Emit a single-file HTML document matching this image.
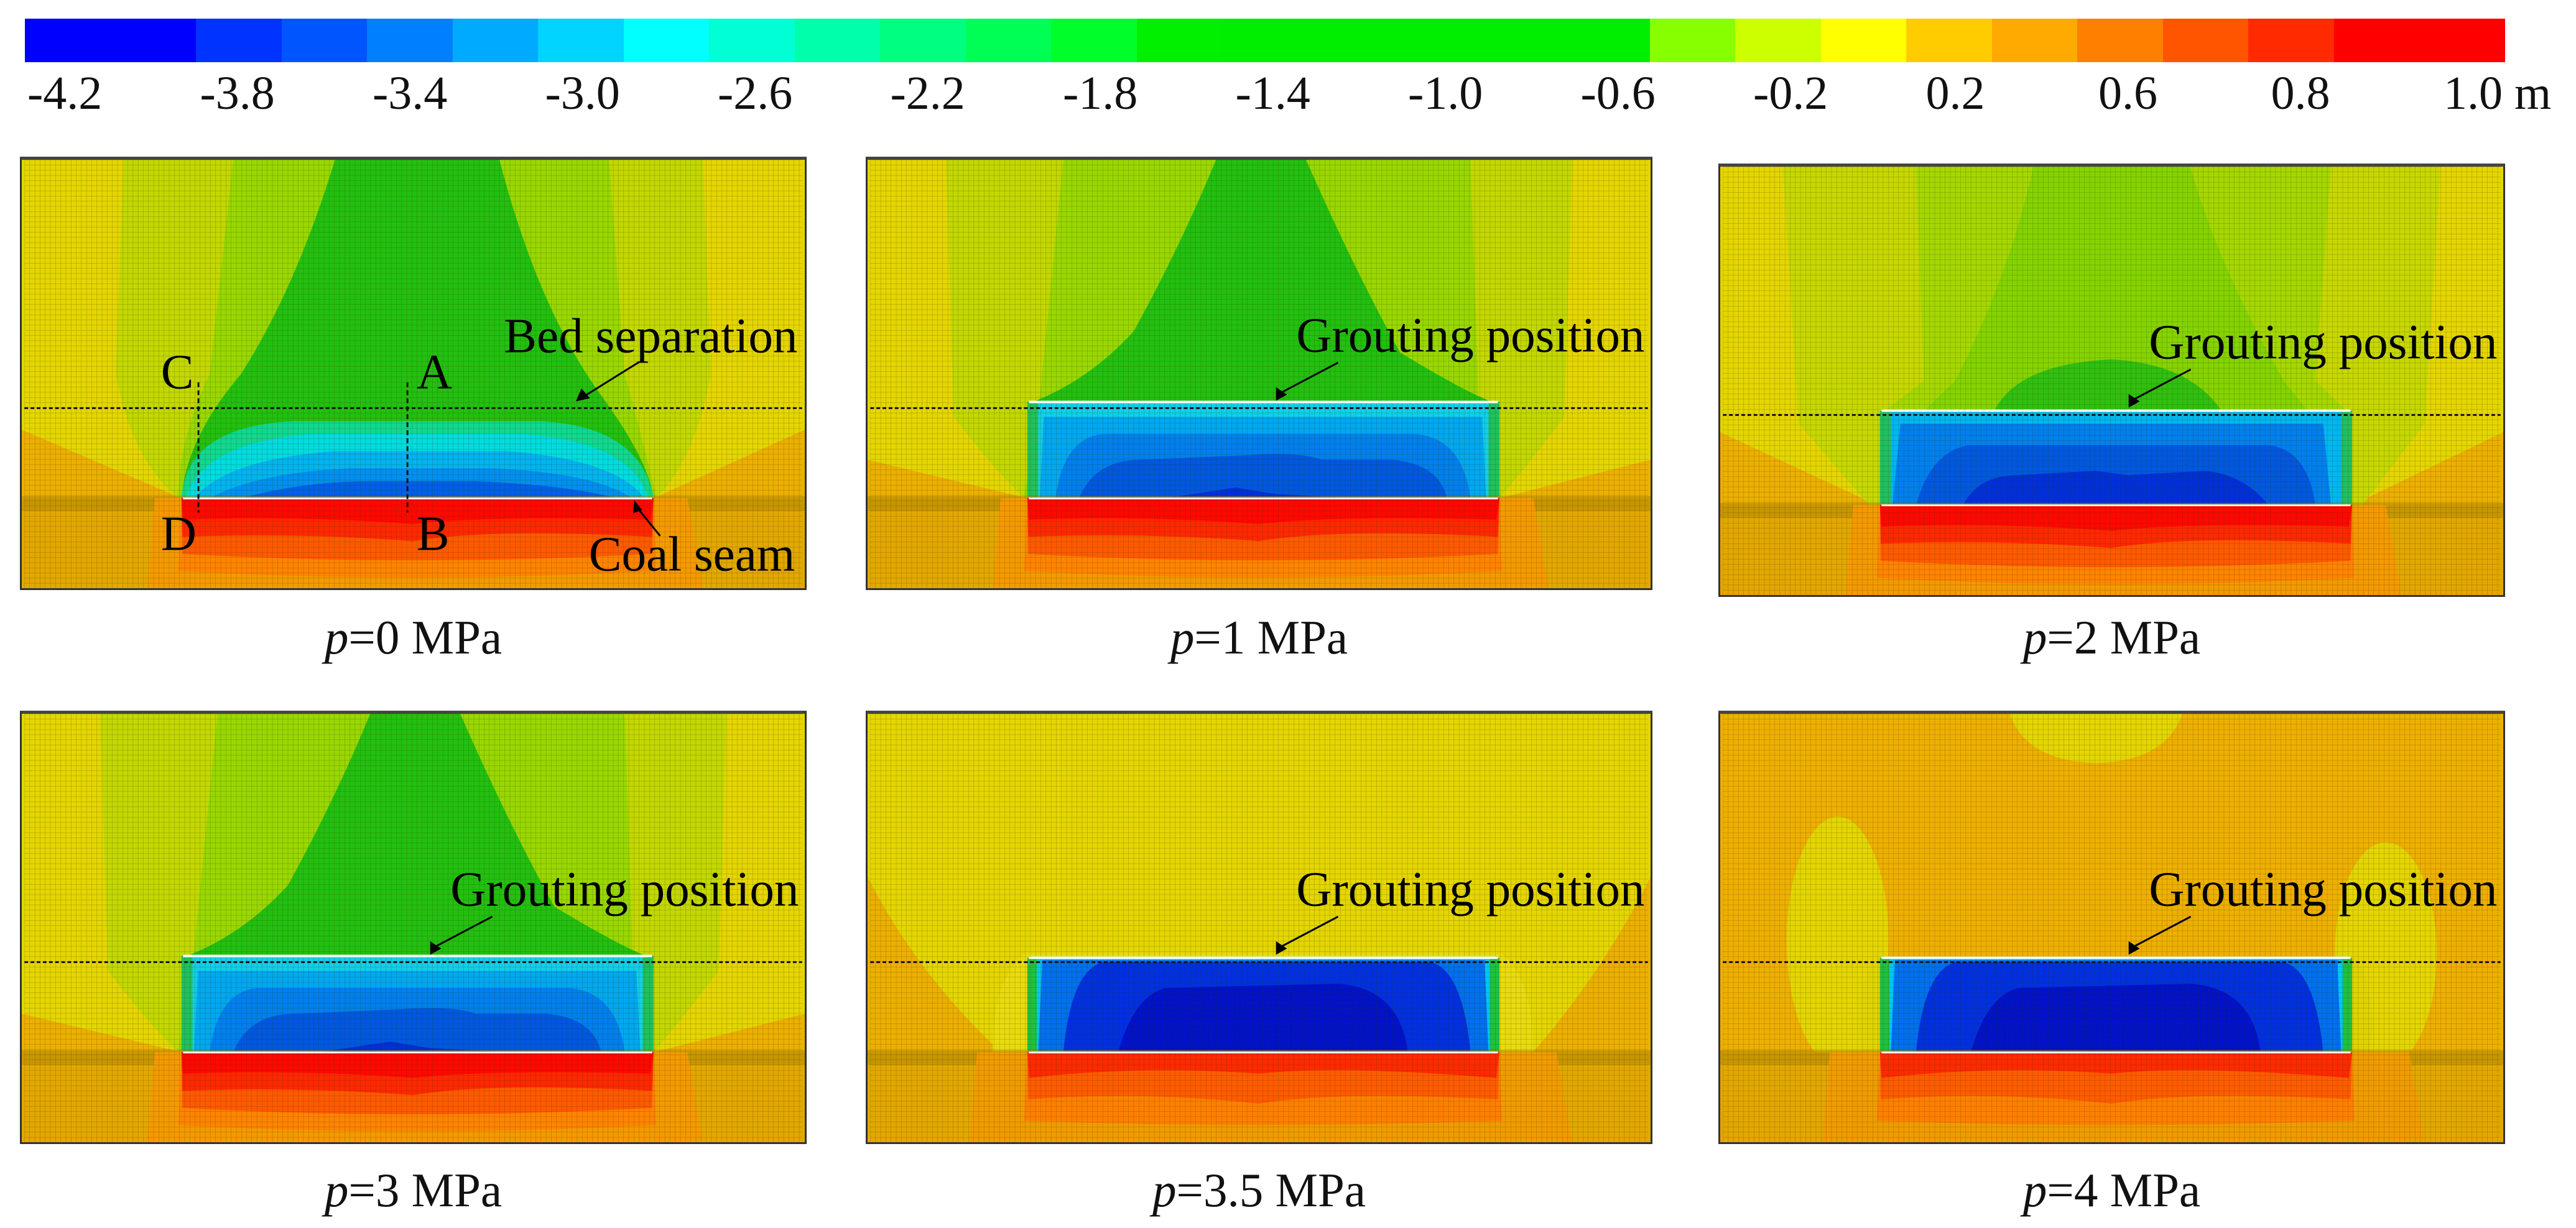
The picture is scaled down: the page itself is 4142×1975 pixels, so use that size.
<!DOCTYPE html>
<html><head><meta charset="utf-8">
<style>
html,body{margin:0;padding:0;background:#fff;}
#root{position:relative;width:4142px;height:1975px;overflow:hidden;background:#fff;font-family:"Liberation Serif",serif;}
.panel{position:absolute;width:1265px;height:697px;box-sizing:border-box;border:3px solid #333;border-top:5px solid #444;overflow:hidden;}
.panel svg{position:absolute;left:0;top:0;width:100%;height:100%;}
.cap{position:absolute;width:1265px;text-align:center;font-size:77px;color:#111;line-height:1;}
.cb-label{position:absolute;top:112px;font-size:76px;color:#111;line-height:1;white-space:nowrap;}
</style></head>
<body>
<div id="root">
  <div id="colorbar" style="position:absolute;left:40px;top:30px;width:3988px;height:70px;display:flex;"></div>
</div>
<script>
// ---- colour bar data ----
var cbLabels = ["-4.2","-3.8","-3.4","-3.0","-2.6","-2.2","-1.8","-1.4","-1.0","-0.6","-0.2","0.2","0.6","0.8","1.0 m"];
var cbColors = ["#0000ff","#0000ff","#0033ff","#0055ff","#0080ff","#00aaff","#00d4ff","#00ffff","#00ffd4","#00ffaa","#00ff80","#00ff55","#00ff2a","#00f000","#00ee00","#00ee00","#00ee00","#00ee00","#00ee00","#88ff00","#ccff00","#ffff00","#ffcc00","#ffaa00","#ff8000","#ff5500","#ff2a00","#ff0000","#ff0000"];
// ---- panel data ----
var pressures = ["0","1","2","3","3.5","4"];
var panelTypes = ["p0","p1","p2","p1","p35","p4"];

var root = document.getElementById('root');
var cb = document.getElementById('colorbar');
cbColors.forEach(function(c,i){
  var s = document.createElement('div');
  
  
  s.style.flex = '1'; s.style.background = c;
  cb.appendChild(s);
});
cbLabels.forEach(function(t,i){
  var l = document.createElement('div');
  
  
  l.className = 'cb-label';
  l.style.left = (44 + i*277.5) + 'px';
  l.textContent = t;
  root.appendChild(l);
});

var lowerA = '<rect x="0" y="79" width="100" height="21" fill="#e2a800"/>'+
 '<path d="M0,78.5 L100,78.5 L100,82 L0,82Z" fill="#b58a00" opacity="0.6"/>'+
 '<path d="M17,79 L85,79 L87,100 L16,100Z" fill="#f49a00"/>'+
 '<path d="M20.4,79 L80.7,79 L81,96 Q50,99 20,96Z" fill="#ff8400"/>'+
 '<path d="M20.4,79 L80.7,79 L80.5,92 Q50,95 20.5,92Z" fill="#ff5a00"/>'+
 '<path d="M20.4,79 L80.7,79 L80.5,88 Q60,86 50,89 Q35,87 20.5,88Z" fill="#ff2800"/>'+
 '<path d="M20.4,79 L80.7,79 L80.3,84 Q60,83 50,85 Q35,83 20.6,84Z" fill="#ff0800"/>';
var lowerB = '<rect x="0" y="79" width="100" height="21" fill="#e2a800"/>'+
 '<path d="M0,78.5 L100,78.5 L100,82 L0,82Z" fill="#b58a00" opacity="0.6"/>'+
 '<path d="M14,79 L88,79 L90,100 L13,100Z" fill="#f09c00"/>'+
 '<path d="M20.4,79 L80.7,79 L81,95 Q50,97 20,95Z" fill="#ff8000"/>'+
 '<path d="M20.4,79 L80.7,79 L80.5,90 Q60,88 50,91 Q35,88 20.5,90Z" fill="#ff5c00"/>'+
 '<path d="M20.4,79 L80.7,79 L80.3,85 Q60,82 50,84 Q35,82 20.6,85Z" fill="#ff2a00"/>';
var goafStd = '<rect x="20.4" y="56.5" width="60.3" height="22.5" fill="#10d0e8"/>'+
 '<path d="M22,79 L22.5,60 L78.5,60 L79,79Z" fill="#00a8f0"/>'+
 '<path d="M24,79 Q25,65 30,64 L70,64 Q76,65 77,79Z" fill="#0080ee"/>'+
 '<path d="M27,79 Q29,70 35,70 L48,69 Q55,68 58,70 L67,70 Q73,71 74,79Z" fill="#0058e0"/>'+
 '<path d="M38,79 L47,76.5 L52,78 L62,79Z" fill="#0030d8"/>'+
 '<rect x="20.4" y="56.5" width="1.4" height="22.5" fill="#20c060"/><rect x="79.3" y="56.5" width="1.4" height="22.5" fill="#20c060"/>';
var goafDeep = '<rect x="20.4" y="57" width="60.3" height="22" fill="#00c8f0"/>'+
 '<rect x="20.4" y="57" width="1.2" height="22" fill="#20c040"/><rect x="79.5" y="57" width="1.2" height="22" fill="#20c040"/>'+
 '<path d="M21.8,79 L22.3,57.5 L78.8,57.5 L79.3,79Z" fill="#0070ee"/>'+
 '<path d="M25,79 Q26,60 30,58 L72,58 Q76,60 77,79Z" fill="#0030e0"/>'+
 '<path d="M32,79 Q34,66 38,64 L60,63 Q68,64 69,79Z" fill="#0012c8"/>';

var shapes = {
 p0: '<rect width="100" height="79" fill="#e4d600"/>'+
  '<path d="M0,63 L20.4,79 L0,79Z" fill="#ecb000"/><path d="M100,63 L80.7,79 L100,79Z" fill="#ecb000"/>'+
  '<path d="M13,0 L87,0 L88,50 Q86,70 81,79 L20,79 Q14,70 12,50Z" fill="#c2d800"/>'+
  '<path d="M27,0 L75,0 L77,50 Q80,70 81,79 L20,79 Q20,65 24,50Z" fill="#98d800"/>'+
  '<path d="M40,0 L61,0 Q66,35 74,55 Q80,70 80.7,79 L20.4,79 Q21,65 28,50 Q35,30 40,0Z" fill="#22c010"/>'+
  '<path d="M20.4,79 Q21,62 35,61 L66,61 Q79,62 80.7,79Z" fill="#10d890"/>'+
  '<path d="M21,79 Q23,66 37,64 L64,64 Q78,66 80,79Z" fill="#00dce0"/>'+
  '<path d="M22,79 Q26,70 40,68 L62,68 Q76,70 79.5,79Z" fill="#00b4f0"/>'+
  '<path d="M24,79 Q30,73 42,72 L60,72 Q73,73 78,79Z" fill="#0090f0"/>'+
  '<path d="M28,79 Q36,75 45,75 L58,75 Q70,76 76,79Z" fill="#0060e8"/>' + lowerA,
 p1: '<rect width="100" height="79" fill="#e4d600"/>'+
  '<path d="M0,70 L20.4,79 L0,79Z" fill="#ecb000"/><path d="M100,70 L80.7,79 L100,79Z" fill="#ecb000"/>'+
  '<path d="M10,0 L90,0 L89,60 Q84,72 80.7,79 L20,79 Q16,72 11,60Z" fill="#c2d800"/>'+
  '<path d="M25,0 L77,0 L78,55 L80.7,79 L20,79 L22,55Z" fill="#98d800"/>'+
  '<path d="M44.5,0 L56,0 Q62,25 68,45 Q78,56 80.7,57 L20.4,57 Q28,52 34,40 Q40,20 44.5,0Z" fill="#22c010"/>' + goafStd + lowerA,
 p2: '<rect width="100" height="79" fill="#e4d600"/>'+
  '<path d="M0,62 L20,79 L0,79Z" fill="#ecb000"/><path d="M100,62 L80.7,79 L100,79Z" fill="#ecb000"/>'+
  '<path d="M8,0 L92,0 L90,60 L82,79 L19,79 L10,60Z" fill="#c6d800"/>'+
  '<path d="M25,0 L78,0 L76,50 L80,57 L21,57 L26,50Z" fill="#a4d800"/>'+
  '<path d="M40,0 L60,0 Q64,25 72,50 L75,57 L26,57 L30,50 Q37,25 40,0Z" fill="#84d400"/>'+
  '<path d="M35,57 Q38,46 50,45 Q60,46 64,57Z" fill="#30c010"/>'+
  '<rect x="20.4" y="57" width="60.3" height="22" fill="#00b8f0"/>'+
  '<rect x="20.4" y="57" width="1.4" height="22" fill="#20c060"/><rect x="79.3" y="57" width="1.4" height="22" fill="#20c060"/>'+
  '<path d="M22,79 L23,60 L77,60 L78,79Z" fill="#0080ee"/>'+
  '<path d="M25,79 Q27,66 32,65 L70,65 Q75,66 76,79Z" fill="#0058e0"/>'+
  '<path d="M31,79 Q33,72 38,72 L48,71 L52,72 L62,71 Q67,72 70,79Z" fill="#0030d8"/>' + lowerA,
 p35: '<rect width="100" height="79" fill="#e4d600"/>'+
  '<path d="M0,38 Q6,60 17,79 L0,79Z" fill="#ecb000"/><path d="M100,38 Q94,60 85,79 L100,79Z" fill="#ecb000"/>'+
  '<path d="M16,79 Q16,62 20,56 L81,56 Q85,62 85,79Z" fill="#e8dc10"/>' + goafDeep + lowerB,
 p4: '<rect width="100" height="79" fill="#eeb000"/>'+
  '<path d="M37,0 L59,0 Q57,11 48,11.5 Q39,11 37,0Z" fill="#e4d600"/>'+
  '<ellipse cx="15" cy="53" rx="6.5" ry="29" fill="#e4d600"/><ellipse cx="85" cy="56" rx="6.5" ry="26" fill="#e4d600"/>'+
  '<path d="M18,79 Q17,64 20,57 L81,57 Q84,64 83,79Z" fill="#e0d400"/>' + goafDeep + lowerB
};

var panelX = [32,1392,2763,32,1392,2763];
var panelY = [252,252,263,1143,1143,1143];
var capY = [987,987,987,1876,1876,1876];
var W=1265,H=697;
pressures.forEach(function(p,i){
  var d = document.createElement('div');
  
  
  d.className='panel';
  d.style.left=panelX[i]+'px'; d.style.top=panelY[i]+'px';
  var t = panelTypes[i];
  var s1 = '<svg viewBox="0 0 100 100" preserveAspectRatio="none">'+shapes[t]+'</svg>';
  var s2 = '<svg viewBox="0 0 '+W+' '+H+'">'+
   '<defs><pattern id="g'+i+'" width="8.4" height="8.4" patternUnits="userSpaceOnUse"><path d="M0,0 H8.4 M0,0 V8.4" stroke="#3a2a00" stroke-width="1" opacity="0.4" fill="none"/></pattern></defs>'+
   '<rect width="'+W+'" height="'+H+'" fill="url(#g'+i+')"/>'+
   '<line x1="0" y1="404" x2="'+W+'" y2="404" stroke="#111" stroke-width="3" stroke-dasharray="6,4"/>';
  if(t!=='p0'){ s2 += '<line x1="258" y1="'+(t==='p1'?394:397)+'" x2="1021" y2="'+(t==='p1'?394:397)+'" stroke="#fff" stroke-width="4"/>'; }
  s2 += '<line x1="258" y1="551" x2="1021" y2="551" stroke="#fff" stroke-width="3"/>';
  var fs='font-family="Liberation Serif, serif" font-size="80" fill="#000"';
  if(t==='p0'){
    s2 += '<text '+fs+' x="780" y="313">Bed separation</text>'+
      '<line x1="1000" y1="329" x2="910" y2="385" stroke="#000" stroke-width="3"/><polygon points="897,393 906,372 920,388" fill="#000"/>'+
      '<text '+fs+' x="222" y="372">C</text><text '+fs+' x="638" y="372">A</text>'+
      '<text '+fs+' x="222" y="635">D</text><text '+fs+' x="638" y="635">B</text>'+
      '<text '+fs+' x="918" y="668">Coal seam</text>'+
      '<line x1="1034" y1="612" x2="996" y2="565" stroke="#000" stroke-width="3"/><polygon points="992,554 1005,570 990,575" fill="#000"/>'+
      '<line x1="283" y1="362" x2="283" y2="574" stroke="#111" stroke-width="3" stroke-dasharray="8,5"/>'+
      '<line x1="623" y1="362" x2="623" y2="574" stroke="#111" stroke-width="3" stroke-dasharray="8,5"/>';
  } else {
    s2 += '<text '+fs+' x="693" y="312">Grouting position</text>'+
      '<line x1="761" y1="330" x2="666" y2="380" stroke="#000" stroke-width="3"/><polygon points="660,392 660,370 678,382" fill="#000"/>';
  }
  s2 += '</svg>';
  d.innerHTML = s1 + s2;
  root.appendChild(d);
  var c = document.createElement('div');
  
  
  c.className='cap';
  c.style.left=panelX[i]+'px'; c.style.top=capY[i]+'px';
  c.innerHTML='<i>p</i>='+p+' MPa';
  root.appendChild(c);
});
</script>
</body></html>
